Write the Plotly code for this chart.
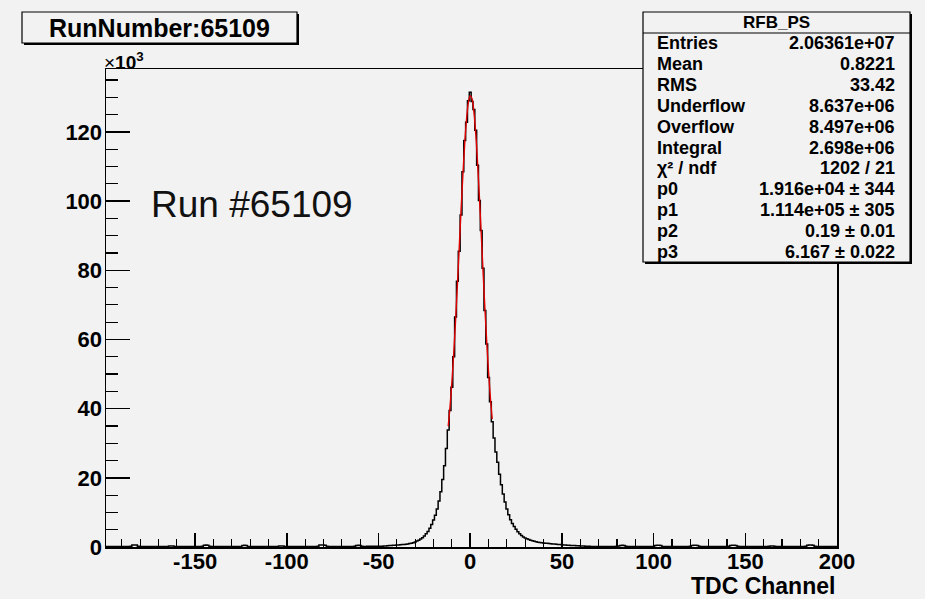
import numpy as np
import plotly.graph_objects as go

# ---------------- data (counts in units of 10^3) ----------------
first_channel = -199
left_tail = [
    0.15, 0.14, 0.16, 0.15, 0.13, 0.15, 0.16, 0.14, 0.15, 0.15,
    0.14, 0.16, 0.15, 0.15, 0.2, 0.55, 0.6, 0.55, 0.2, 0.15,
    0.15, 0.14, 0.16, 0.15, 0.14, 0.15, 0.16, 0.15, 0.14, 0.15,
    0.15, 0.16, 0.15, 0.14, 0.15, 0.3, 0.32, 0.3, 0.15, 0.14,
    0.15, 0.16, 0.15, 0.14, 0.15, 0.15, 0.16, 0.14, 0.15, 0.15,
    0.14, 0.15, 0.16, 0.2, 0.5, 0.55, 0.5, 0.2, 0.15, 0.14,
    0.15, 0.16, 0.15, 0.14, 0.15, 0.15, 0.16, 0.14, 0.15, 0.15,
    0.14, 0.15, 0.16, 0.15, 0.18, 0.45, 0.5, 0.45, 0.18, 0.15,
    0.15, 0.16, 0.15, 0.14, 0.15, 0.15, 0.16, 0.14, 0.15, 0.15,
    0.14, 0.15, 0.16, 0.15, 0.15, 0.28, 0.3, 0.28, 0.15, 0.14,
    0.15, 0.16, 0.15, 0.14, 0.15, 0.15, 0.16, 0.14, 0.15, 0.15,
    0.14, 0.15, 0.16, 0.15, 0.16, 0.15, 0.2, 0.55, 0.6, 0.55,
    0.5, 0.2, 0.15, 0.16, 0.15, 0.14, 0.15, 0.15, 0.16, 0.15,
    0.15, 0.14, 0.16, 0.15, 0.15, 0.18, 0.2, 0.45, 0.5, 0.45,
    0.2, 0.18, 0.18, 0.19, 0.2, 0.2, 0.21, 0.2, 0.2,
]
left_core = [
    0.2, 0.22, 0.25, 0.28, 0.32, 0.36, 0.4, 0.44, 0.48, 0.52,
    0.56, 0.6, 0.65, 0.7, 0.75, 0.82, 0.9, 1.0, 1.1, 1.25,
    1.45, 1.7, 1.95, 2.3, 2.7, 3.2, 3.8, 4.5, 5.4, 6.5,
    7.8, 9.2, 11.0, 13.3, 16.0, 19.5, 23.5, 28.5,
]
peak = [
    33.8, 39.5, 46.2, 55.0, 66.5, 76.8, 85.5, 96.0, 108.5, 117.5,
    122.8, 129.0, 131.5, 128.8, 126.5, 120.5, 110.4, 100.2, 91.5, 80.6,
    68.4, 58.7, 49.0, 42.0, 36.2,
]
right_core = [
    31.5, 27.5, 24.5, 21.0, 18.0, 15.3, 13.0, 11.0, 9.3, 7.9,
    6.8, 5.9, 5.1, 4.4, 3.8, 3.3, 2.9, 2.6, 2.35, 2.15,
    1.95, 1.8, 1.65, 1.5, 1.4, 1.3, 1.2, 1.15, 1.1, 1.05,
    1.0, 0.95, 0.9, 0.85, 0.8, 0.75, 0.7, 0.65, 0.6, 0.55,
    0.5, 0.48, 0.45, 0.42, 0.4, 0.38, 0.35, 0.32, 0.3, 0.28,
    0.25, 0.22, 0.2,
]
right_tail = [
    0.18, 0.17, 0.16, 0.15, 0.15, 0.14, 0.15, 0.14, 0.13, 0.14,
    0.13, 0.14, 0.13, 0.15, 0.2, 0.3, 0.45, 0.5, 0.45, 0.2,
    0.14, 0.13, 0.12, 0.13, 0.12, 0.13, 0.12, 0.12, 0.13, 0.12,
    0.12, 0.13, 0.12, 0.13, 0.18, 0.45, 0.5, 0.5, 0.45, 0.18,
    0.13, 0.12, 0.12, 0.13, 0.12, 0.12, 0.13, 0.12, 0.12, 0.13,
    0.12, 0.13, 0.12, 0.12, 0.2, 0.45, 0.5, 0.5, 0.45, 0.2,
    0.13, 0.12, 0.12, 0.13, 0.12, 0.12, 0.13, 0.12, 0.12, 0.13,
    0.12, 0.13, 0.12, 0.12, 0.13, 0.2, 0.45, 0.5, 0.5, 0.45,
    0.2, 0.13, 0.12, 0.12, 0.13, 0.12, 0.12, 0.13, 0.12, 0.12,
    0.13, 0.12, 0.12, 0.13, 0.12, 0.12, 0.13, 0.2, 0.3, 0.3,
    0.2, 0.13, 0.12, 0.12, 0.13, 0.12, 0.12, 0.13, 0.12, 0.12,
    0.13, 0.12, 0.12, 0.13, 0.12, 0.12, 0.13, 0.2, 0.5, 0.55,
    0.55, 0.5, 0.2, 0.13, 0.12, 0.12, 0.13, 0.12, 0.12, 0.13,
    0.12, 0.12, 0.13, 0.12, 0.12,
]

fit_x = [-12, -11, -10, -9, -8, -7, -6, -5, -4, -3, -2, -1, 0,
         1, 2, 3, 4, 5, 6, 7, 8, 9, 10, 11, 12]
fit_y = [34.95, 40.64, 47.60, 55.86, 65.29, 75.62, 86.48, 97.34, 107.60,
         116.61, 123.75, 128.51, 130.51, 129.60, 125.86, 119.58, 111.21,
         101.35, 90.63, 79.71, 69.12, 59.31, 50.59, 43.13, 36.97]

x_ticks = [-150, -100, -50, 0, 50, 100, 150, 200]
x_tick_labels = ["-150", "-100", "-50", "0", "50", "100", "150", "200"]
y_ticks = [0, 20, 40, 60, 80, 100, 120]
y_tick_labels = ["0", "20", "40", "60", "80", "100", "120"]

title_text = "RunNumber:65109"
run_label = "Run #65109"
x_title = "TDC Channel"
stats_name = "RFB_PS"
stat_labels = ["Entries", "Mean", "RMS", "Underflow", "Overflow", "Integral",
               "χ² / ndf", "p0", "p1", "p2", "p3"]
stat_values = ["2.06361e+07", "0.8221", "33.42", "8.637e+06", "8.497e+06",
               "2.698e+06", "1202 / 21", "1.916e+04 ± 344", "1.114e+05 ± 305",
               "0.19 ± 0.01", "6.167 ± 0.022"]

counts = left_tail + left_core + peak + right_core + right_tail
channels = list(range(first_channel, first_channel + len(counts)))

# ---------------- layout geometry (screen pixels) ----------------
W, H = 925, 599
L, R, T, B = 106, 837, 69, 547  # plot frame in pixels
FONT = "Liberation Sans, Arial, sans-serif"
BG = "#f2f2f2"


def px(x):
    return (x - L) / (R - L)


def py(y):
    return (B - y) / (B - T)


fig = go.Figure()
fig.add_trace(go.Scatter(x=channels, y=counts, mode="lines",
                         line=dict(color="black", width=1.5, shape="hvh"),
                         hoverinfo="skip", showlegend=False))
fig.add_trace(go.Scatter(x=fit_x, y=fit_y, mode="lines",
                         line=dict(color="#e00000", width=1.4, shape="spline"),
                         hoverinfo="skip", showlegend=False))

tickfont = dict(family=FONT, size=22, color="black", weight="bold")
fig.update_xaxes(range=[-198.6, 200], tickvals=x_ticks, ticktext=x_tick_labels,
                 ticks="inside", ticklen=14, tickwidth=1.5, tickcolor="black",
                 minor=dict(tick0=0, dtick=10, ticks="inside", ticklen=8,
                            tickwidth=1.2, tickcolor="black"),
                 showline=True, mirror=True, linecolor="black", linewidth=1.5,
                 showgrid=False, zeroline=False, tickfont=tickfont,
                 ticklabelstandoff=-6)
fig.update_yaxes(range=[0, 138.2], tickvals=y_ticks, ticktext=y_tick_labels,
                 ticks="inside", ticklen=24, tickwidth=1.5, tickcolor="black",
                 minor=dict(tick0=0, dtick=5, ticks="inside", ticklen=12,
                            tickwidth=1.2, tickcolor="black"),
                 showline=True, mirror=True, linecolor="black", linewidth=1.5,
                 showgrid=False, zeroline=False, tickfont=tickfont,
                 ticklabelstandoff=-2)

shapes = []
annotations = []

# title box with shadow
shapes.append(dict(type="rect", xref="paper", yref="paper", layer="above",
                   x0=px(24), x1=px(299), y0=py(45), y1=py(14),
                   fillcolor="black", line=dict(width=0)))
shapes.append(dict(type="rect", xref="paper", yref="paper", layer="above",
                   x0=px(22), x1=px(297), y0=py(43), y1=py(12),
                   fillcolor=BG, line=dict(color="black", width=1.2)))
annotations.append(dict(xref="paper", yref="paper", x=px(159.5), y=py(28),
                        xanchor="center", yanchor="middle", showarrow=False,
                        text="<b>%s</b>" % title_text,
                        font=dict(family=FONT, size=25, color="black")))

# stats box with shadow
SX0, SX1, SY0, SY1 = 643, 910, 12, 262
shapes.append(dict(type="rect", xref="paper", yref="paper", layer="above",
                   x0=px(SX0 + 2), x1=px(SX1 + 2), y0=py(SY1 + 2), y1=py(SY0 + 2),
                   fillcolor="black", line=dict(width=0)))
shapes.append(dict(type="rect", xref="paper", yref="paper", layer="above",
                   x0=px(SX0), x1=px(SX1), y0=py(SY1), y1=py(SY0),
                   fillcolor=BG, line=dict(color="black", width=1.2)))
HEAD = 33
shapes.append(dict(type="line", xref="paper", yref="paper", layer="above",
                   x0=px(SX0), x1=px(SX1), y0=py(HEAD), y1=py(HEAD),
                   line=dict(color="black", width=1)))
annotations.append(dict(xref="paper", yref="paper", x=px((SX0 + SX1) / 2),
                        y=py((SY0 + HEAD) / 2), xanchor="center", yanchor="middle",
                        showarrow=False, text="<b>%s</b>" % stats_name,
                        font=dict(family=FONT, size=17, color="black")))
row_h = (SY1 - HEAD) / len(stat_labels)
for i, (lab, val) in enumerate(zip(stat_labels, stat_values)):
    yc = HEAD + row_h * (i + 0.5)
    annotations.append(dict(xref="paper", yref="paper", x=px(655), y=py(yc),
                            xanchor="left", yanchor="middle", showarrow=False,
                            text="<b>%s</b>" % lab,
                            font=dict(family=FONT, size=18, color="black")))
    annotations.append(dict(xref="paper", yref="paper", x=px(897), y=py(yc),
                            xanchor="right", yanchor="middle", showarrow=False,
                            text="<b>%s</b>" % val,
                            font=dict(family=FONT, size=18, color="black")))

# x10^3 label
annotations.append(dict(xref="paper", yref="paper", x=px(102), y=py(61),
                        xanchor="left", yanchor="middle", showarrow=False,
                        text="×<b>10</b><sup><b>3</b></sup>",
                        font=dict(family=FONT, size=19, color="black")))
# in-plot run label
annotations.append(dict(xref="paper", yref="paper", x=px(149), y=py(205),
                        xanchor="left", yanchor="middle", showarrow=False,
                        text=run_label,
                        font=dict(family=FONT, size=37, color="#111111")))
# axis title
annotations.append(dict(xref="paper", yref="paper", x=px(837), y=py(586),
                        xanchor="right", yanchor="middle", showarrow=False,
                        text="<b>%s</b>" % x_title,
                        font=dict(family=FONT, size=23, color="black")))

fig.update_layout(width=W, height=H, autosize=False,
                  margin=dict(l=L, r=W - R, t=T, b=H - B, pad=0),
                  paper_bgcolor=BG, plot_bgcolor=BG,
                  shapes=shapes, annotations=annotations,
                  showlegend=False, hovermode=False)

page_css = ("document.body.style.margin='0';"
            "document.body.style.overflow='hidden';"
            "document.body.style.background='%s';" % BG)
fig.write_html("out.html", post_script=page_css,
               config={"displayModeBar": False, "staticPlot": True})
